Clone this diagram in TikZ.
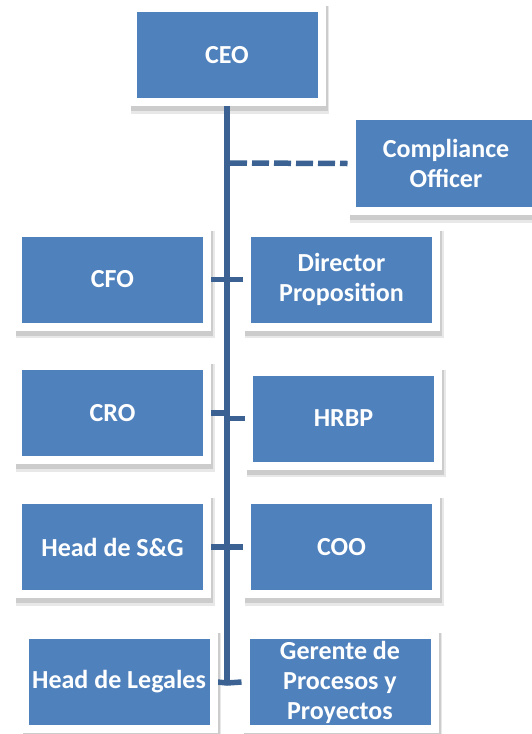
\documentclass[tikz,border=0pt]{standalone}
\usepackage{fontspec}
\setmainfont{Carlito}
\usetikzlibrary{backgrounds}
\definecolor{boxblue}{HTML}{4F81BD}
\definecolor{lineblue}{HTML}{3B6293}
\begin{document}
\begin{tikzpicture}[x=1pt,y=-1pt,
  box/.style={fill=boxblue,draw=white,line width=8pt,minimum width=189pt,
    minimum height=94pt,inner sep=0pt,align=center,text=white,
    font=\fontsize{26}{30}\selectfont\bfseries},
  trunk/.style={lineblue,line width=5.5pt}]
\useasboundingbox (0,0) rectangle (532,734);
\node[box] (ceo) at (227,55) {CEO};
\node[box,minimum height=95pt] (comp) at (446,163.5) {Compliance\\Officer};
\node[box] (cfo) at (112.5,279.5) {CFO};
\node[box] (dir) at (341.5,279.5) {Director\\Proposition};
\node[box] (cro) at (112.5,413) {CRO};
\node[box] (hrbp) at (343.5,418.5) {HRBP};
\node[box] (sg) at (112.5,547) {Head de S\&G};
\node[box] (coo) at (341.5,547) {COO};
\node[box] (leg) at (119,682) {Head de Legales};
\node[box] (ger) at (340,682) {Gerente de\\Procesos y\\Proyectos};
\coordinate (bottom) at (227,683);
\coordinate (dash) at (230,163);
\begin{scope}[on background layer]  % shadows and lines under the white frames
\foreach \n in {ceo,comp,cfo,dir,cro,hrbp,sg,coo,leg,ger} {
  \fill[black!9] ([shift={(2,2)}]\n.north west) rectangle ([shift={(3.5,7.5)}]\n.south east);
  \fill[black!20] ([shift={(2,2)}]\n.north west) rectangle ([shift={(2,5)}]\n.south east);
}
\draw[trunk] (ceo.south) -- (bottom);
\draw[trunk,dash pattern=on 17pt off 5pt] (dash) -- (comp.west);
\draw[trunk] (cfo.east) -- (cfo.east -| bottom) -- (dir.west);
\draw[trunk] (cro.east) -- (cro.east -| bottom);
\draw[trunk] (hrbp.west) -- (hrbp.west -| bottom);
\draw[trunk] (sg.east) -- (sg.east -| bottom) -- (coo.west);
\draw[trunk] (leg.east) -- (bottom) -- (ger.west);
\end{scope}
\end{tikzpicture}
\end{document}
